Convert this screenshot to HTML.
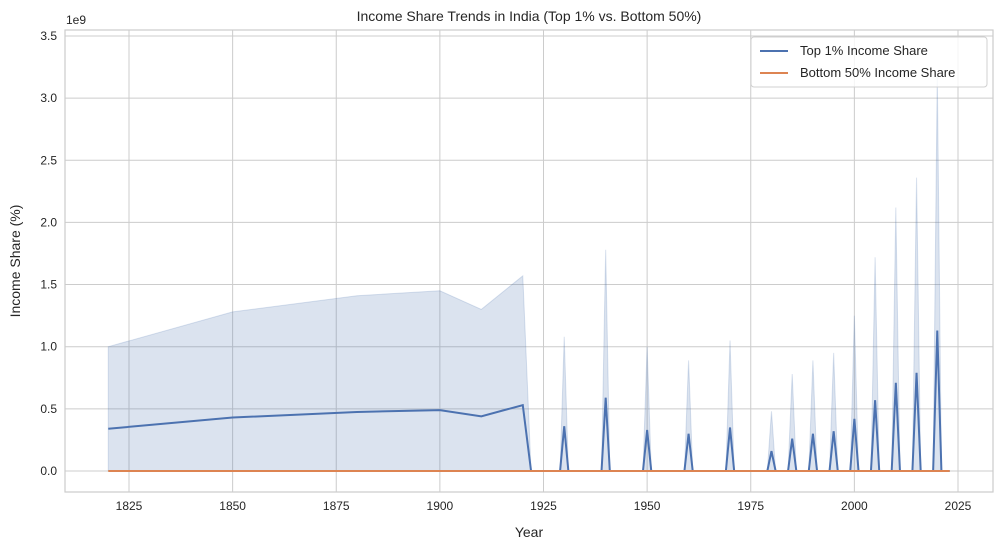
<!DOCTYPE html>
<html><head><meta charset="utf-8">
<style>
body{margin:0;background:#fff;font-family:"Liberation Sans",sans-serif;}
svg text{font-family:"Liberation Sans",sans-serif;fill:#262626;}
</style></head>
<body>
<svg id="chart" width="1005" height="550">
</svg>
<script>
const earlyYears=[1820,1850,1880,1900,1910,1920];
const earlyTop1=[0.34,0.43,0.475,0.49,0.44,0.53];
const earlyUpper=[1.0,1.28,1.41,1.45,1.30,1.57];
const spikeYears=[1930,1940,1950,1960,1970,1980,1985,1990,1995,2000,2005,2010,2015,2020];
const spikeTop1=[0.36,0.59,0.33,0.30,0.35,0.16,0.26,0.30,0.32,0.42,0.57,0.71,0.79,1.13];
const spikeUpper=[1.08,1.78,1.0,0.89,1.05,0.48,0.78,0.89,0.95,1.25,1.72,2.12,2.36,3.2];
const bottomYears=[1820,2023];
const bottomVals=[0,0];
const xTicks=[1825,1850,1875,1900,1925,1950,1975,2000,2025];
const yTicks=[0,0.5,1.0,1.5,2.0,2.5,3.0,3.5];

const chartSvg=document.getElementById('chart');
const NS='http://www.w3.org/2000/svg';
const PL=65,PR=993,PT=30,PB=492;
const xs=v=>129+(v-1825)*4.145;
const ys=v=>471-v*124.3;
function mk(tag,attrs,parent){const e=document.createElementNS(NS,tag);for(const k in attrs)e.setAttribute(k,attrs[k]);(parent||chartSvg).appendChild(e);return e;}

const pts=[];
earlyYears.forEach((yr,i)=>pts.push([yr,earlyTop1[i],earlyUpper[i]]));
pts.push([1922,0,0]);
spikeYears.forEach((yr,i)=>{pts.push([yr-1,0,0]);pts.push([yr,spikeTop1[i],spikeUpper[i]]);pts.push([yr+1,0,0]);});
pts.push([2023,0,0]);

xTicks.forEach(t=>{const g=mk('line',{x1:xs(t),x2:xs(t),y1:PT,y2:PB,stroke:'#cccccc','stroke-width':1});


const tx=mk('text',{x:xs(t),y:PB+18,'text-anchor':'middle','font-size':12});tx.textContent=t;

});
yTicks.forEach(t=>{const g=mk('line',{x1:PL,x2:PR,y1:ys(t),y2:ys(t),stroke:'#cccccc','stroke-width':1});


const tx=mk('text',{x:PL-8,y:ys(t)+4,'text-anchor':'end','font-size':12});tx.textContent=t.toFixed(1);

});

let dd='M'+pts.map(p=>xs(p[0])+','+ys(p[2])).join('L');
dd+='L'+pts.slice().reverse().map(p=>xs(p[0])+','+ys(0)).join('L')+'Z';
const bandPath=mk('path',{d:dd,fill:'#4c72b0','fill-opacity':0.2,stroke:'#4c72b0','stroke-opacity':0.2,'stroke-width':1});



const topLine=mk('path',{d:'M'+pts.map(p=>xs(p[0])+','+ys(p[1])).join('L'),fill:'none',stroke:'#4c72b0','stroke-width':2});


const botLine=mk('path',{d:'M'+bottomYears.map((yr,i)=>xs(yr)+','+ys(bottomVals[i])).join('L'),fill:'none',stroke:'#dd8452','stroke-width':2});



const frameRect=mk('rect',{x:PL,y:PT,width:PR-PL,height:PB-PT,fill:'none',stroke:'#cccccc','stroke-width':1.2});



const titleT=mk('text',{x:(PL+PR)/2,y:21,'text-anchor':'middle','font-size':14});titleT.textContent='Income Share Trends in India (Top 1% vs. Bottom 50%)';


const expT=mk('text',{x:66,y:24,'font-size':12});expT.textContent='1e9';


const xlab=mk('text',{x:(PL+PR)/2,y:537,'text-anchor':'middle','font-size':14});xlab.textContent='Year';


const ylab=mk('text',{x:20,y:(PT+PB)/2,'text-anchor':'middle','font-size':14,transform:'rotate(-90 20 '+((PT+PB)/2)+')'});ylab.textContent='Income Share (%)';



const legendG=mk('g',{});


mk('rect',{x:751,y:37,width:236,height:50,rx:3,fill:'#fff','fill-opacity':0.8,stroke:'#d0d0d0'},legendG);
[['Top 1% Income Share','#4c72b0',51],['Bottom 50% Income Share','#dd8452',73]].forEach(([lab,c,yy])=>{
const ln=mk('line',{x1:760,x2:788,y1:yy,y2:yy,stroke:c,'stroke-width':2},legendG);


const t=mk('text',{x:800,y:yy+4,'font-size':13},legendG);t.textContent=lab;

});
</script>
</body></html>
